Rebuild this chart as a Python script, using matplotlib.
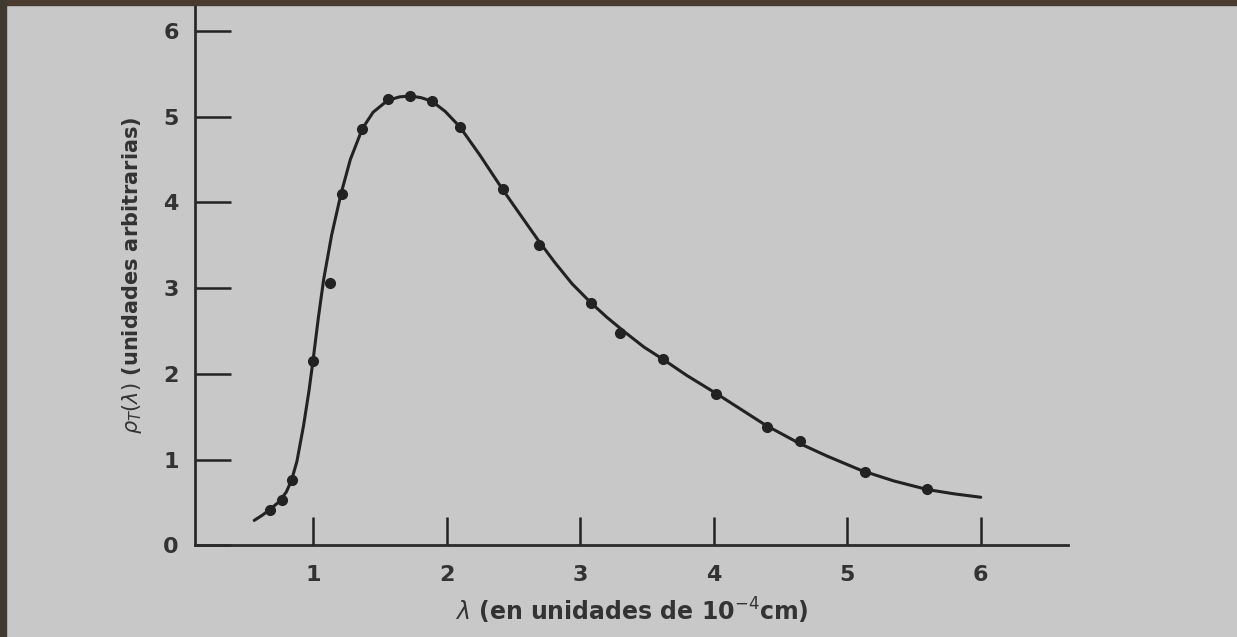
import numpy as np
import matplotlib.pyplot as plt
from matplotlib.patches import Rectangle

# Puntos experimentales (lambda en 10^-4 cm, rho_T en unidades arbitrarias)
lam_puntos = [0.68, 0.77, 0.84, 1.00, 1.13, 1.22, 1.37, 1.56, 1.73, 1.89,
              2.10, 2.42, 2.69, 3.08, 3.30, 3.62, 4.02, 4.40, 4.65, 5.13, 5.60]
rho_puntos = [0.41, 0.53, 0.76, 2.15, 3.06, 4.10, 4.86, 5.20, 5.24, 5.18,
              4.88, 4.15, 3.50, 2.82, 2.47, 2.17, 1.76, 1.38, 1.22, 0.86, 0.66]

# Curva teorica
lam_curva = [0.56, 0.62, 0.68, 0.74, 0.80, 0.84, 0.88, 0.93, 0.97, 1.00, 1.04,
             1.08, 1.14, 1.21, 1.28, 1.37, 1.45, 1.56, 1.65, 1.73, 1.81, 1.89,
             1.99, 2.10, 2.25, 2.42, 2.55, 2.69, 2.81, 2.94, 3.08, 3.20, 3.34,
             3.48, 3.62, 3.80, 4.02, 4.20, 4.39, 4.64, 4.85, 5.11, 5.35, 5.60,
             5.80, 6.00]
rho_curva = [0.29, 0.35, 0.42, 0.50, 0.62, 0.76, 0.98, 1.40, 1.80, 2.15, 2.65,
             3.10, 3.62, 4.10, 4.50, 4.86, 5.05, 5.19, 5.23, 5.24, 5.22, 5.18,
             5.06, 4.88, 4.55, 4.15, 3.86, 3.55, 3.30, 3.05, 2.83, 2.66, 2.48,
             2.31, 2.17, 1.98, 1.77, 1.59, 1.40, 1.19, 1.04, 0.87, 0.75, 0.65,
             0.60, 0.56]

x_ticks = [1, 2, 3, 4, 5, 6]
y_ticks = [0, 1, 2, 3, 4, 5, 6]

fondo = '#c8c8c8'
tinta = '#222222'
texto = '#333333'

fig = plt.figure(figsize=(12.37, 6.37), dpi=100, facecolor=fondo)
ax = fig.add_axes([0.158, 0.144, 0.705, 0.848])
ax.set_facecolor(fondo)

ax.plot(lam_curva, rho_curva, color=tinta, linewidth=2.2, solid_capstyle='round',
        solid_joinstyle='round')
ax.plot(lam_puntos, rho_puntos, 'o', color=tinta, markersize=7)

ax.set_xlim(0.12, 6.65)
ax.set_ylim(0, 6.3)

for lado in ['top', 'right']:
    ax.spines[lado].set_visible(False)
for lado in ['left', 'bottom']:
    ax.spines[lado].set_linewidth(2)
    ax.spines[lado].set_color('#2a2a2a')

ax.set_xticks(x_ticks)
ax.set_yticks(y_ticks)
ax.tick_params(axis='x', direction='in', length=20, width=1.8, color=tinta,
               pad=14, labelsize=16, labelcolor=texto)
ax.tick_params(axis='y', direction='in', length=26, width=1.8, color=tinta,
               pad=12, labelsize=16, labelcolor=texto)
for t in ax.get_xticklabels() + ax.get_yticklabels():
    t.set_fontweight('bold')

ax.set_xlabel(r'$\lambda$ (en unidades de 10$^{-4}$cm)', fontsize=17,
              fontweight='bold', color=texto, labelpad=8)
ax.set_ylabel(r'$\rho_T(\lambda)$ (unidades arbitrarias)', fontsize=15,
              fontweight='bold', color=texto, labelpad=14)

# bordes oscuros de la foto
fig.patches.append(Rectangle((0, 0.992), 1, 0.008, transform=fig.transFigure,
                             color='#4a3b30', zorder=10))
fig.patches.append(Rectangle((0, 0), 0.005, 1, transform=fig.transFigure,
                             color='#3f3a30', zorder=10))

fig.savefig('out.png', dpi=100, facecolor=fondo)
